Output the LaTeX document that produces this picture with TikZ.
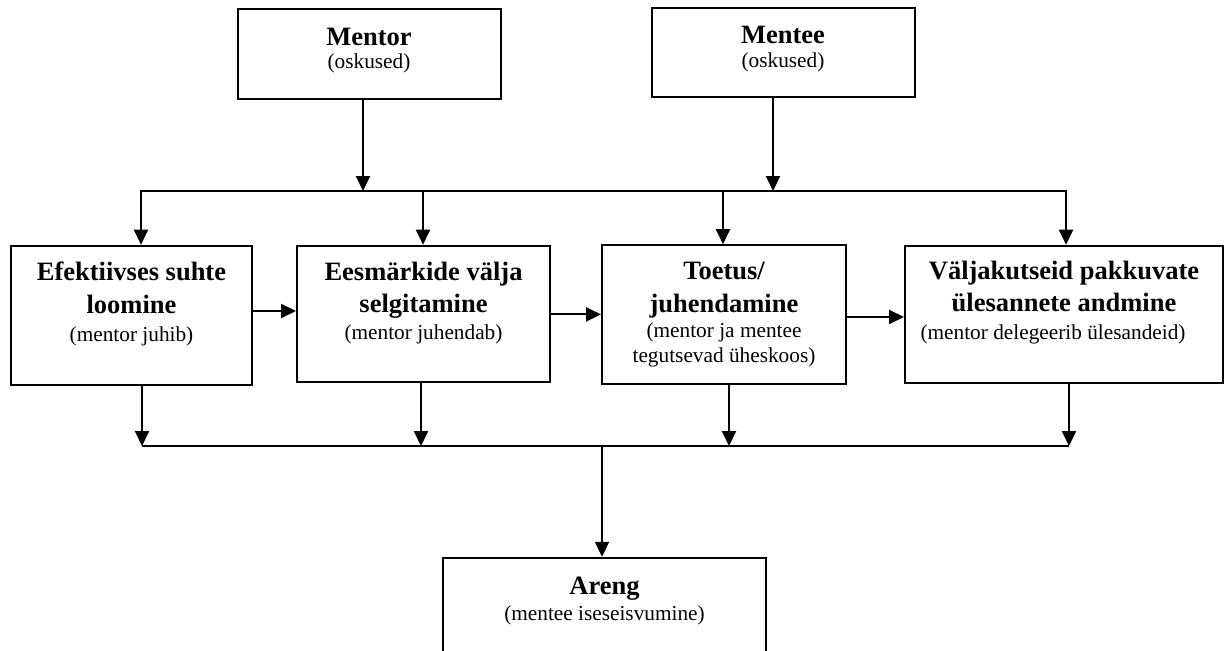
\documentclass[tikz,border=0pt]{standalone}
\usepackage{fontspec}
\setmainfont{Liberation Serif}
\usetikzlibrary{arrows.meta}

% strut with given height and depth (in pt) that fixes each baseline
\newcommand\bxs[2]{\rule[-#2pt]{0pt}{\dimexpr #1pt + #2pt\relax}}
\newcommand\subf{\fontsize{21.3}{0}\selectfont\mdseries}

\tikzset{
  x=1pt, y=-1pt,
  stagebox/.style={draw, line width=2pt, rectangle, inner sep=0pt,
    align=flush center, text width=#1,
    font=\fontsize{26.5}{0}\selectfont\bfseries},
  conn/.style={line width=2pt},
  arr/.style={conn, -{Triangle[length=15pt,width=14pt]}},
}

\begin{document}
\lineskip=0pt\relax
\lineskiplimit=0pt\relax
\begin{tikzpicture}
\useasboundingbox (0,0) rectangle (1225,650);
\clip (0,0) rectangle (1225,650);

% sources
\node[stagebox=263pt] (mentor) at (369,54.5)
  {\bxs{35.7}{6}Mentor\\{\subf\bxs{16.6}{30.7}(oskused)}};
\node[stagebox=263pt] (mentee) at (783,52.5)
  {\bxs{35.7}{6}Mentee\\{\subf\bxs{16.7}{30}(oskused)}};

% stages
\node[stagebox=241pt] (b1) at (131.5,315.5)
  {\bxs{35}{6}Efektiivses suhte\\\bxs{25.3}{6}loomine\\{\subf\bxs{21}{44.3}(mentor juhib)}};
\node[stagebox=253pt] (b2) at (423.5,313.7)
  {\bxs{34.3}{6}Eesmärkide välja\\\bxs{25.7}{6}selgitamine\\{\subf\bxs{19.6}{42.4}(mentor juhendab)}};
\node[stagebox=244pt] (b3) at (724,314.5)
  {\bxs{34.3}{6}Toetus/\\\bxs{25.7}{6}juhendamine\\{\subf\bxs{18}{5}(mentor ja mentee}\\{\subf\bxs{19}{21.6}tegutsevad üheskoos)}};
\node[stagebox=318pt] (b4) at (1064,314.5)
  {\bxs{33.3}{6}Väljakutseid pakkuvate\\\bxs{25.7}{6}ülesannete andmine\\{\subf\bxs{20.3}{44.3}(mentor delegeerib ülesandeid)\kern22pt}};

% result
\node[stagebox=323pt] (areng) at (604.5,619.15)
  {\bxs{36.7}{6}Areng\\{\subf\bxs{19}{60}(mentee iseseisvumine)}};

% upper distribution bus
\coordinate (tl) at (141,191);
\coordinate (tr) at (1066,191);
\coordinate (mj) at (363,191);
\coordinate (ej) at (773,191);
\coordinate (t2) at (423,191);
\coordinate (t3) at (723,191);
\draw[arr] (mentor.south -| mj) -- (mj);
\draw[arr] (mentee.south -| ej) -- (ej);
\draw[conn, {Triangle[length=15pt,width=14pt]}-{Triangle[length=15pt,width=14pt]}]
  (b1.north -| tl) -- (tl) -- (tr) -- (b4.north -| tr);
\draw[arr] (t2) -- (b2.north -| t2);
\draw[arr] (t3) -- (b3.north -| t3);

% sequence between stages
\coordinate (a12) at ([yshift=4.5pt]b1.east);
\coordinate (a23) at ([yshift=-0.7pt]b2.east);
\coordinate (a34) at ([yshift=-2.5pt]b3.east);
\draw[arr] (a12) -- (a12 -| b2.west);
\draw[arr] (a23) -- (a23 -| b3.west);
\draw[arr] (a34) -- (a34 -| b4.west);

% lower collecting bus
\coordinate (j1) at (142,446);
\coordinate (j2) at (421,446);
\coordinate (j3) at (729,446);
\coordinate (j4) at (1069,446);
\coordinate (ja) at (602,446);
\draw[conn] (j1) -- (j4);
\draw[arr] (b1.south -| j1) -- (j1);
\draw[arr] (b2.south -| j2) -- (j2);
\draw[arr] (b3.south -| j3) -- (j3);
\draw[arr] (b4.south -| j4) -- (j4);
\draw[arr] (ja) -- (areng.north -| ja);
\end{tikzpicture}
\end{document}
